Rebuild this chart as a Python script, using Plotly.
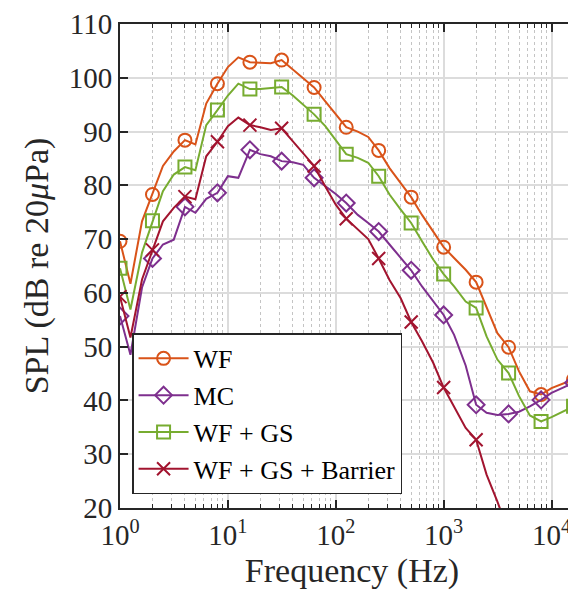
import math
import plotly.graph_objects as go

# 1/3-octave band centre frequencies (Hz)
freq = [1, 1.25, 1.6, 2, 2.5, 3.15, 4, 5, 6.3, 8, 10, 12.5, 16, 20, 25, 31.5, 40, 50,
        63, 80, 100, 125, 160, 200, 250, 315, 400, 500, 630, 800, 1000, 1250, 1600,
        2000, 2500, 3150, 4000, 5000, 6300, 8000, 10000, 12500, 16000, 20000]

spl_wf = [69.6, 61.7, 73.3, 78.3, 83.6, 86.3, 88.4, 87.6, 95.2, 98.9, 102.0, 103.8, 102.9,
          102.8, 102.7, 103.3, 101.5, 100.0, 98.2, 95.6, 93.2, 90.8, 90.0, 89.0, 86.5,
          83.2, 80.4, 77.8, 74.5, 71.4, 68.5, 66.5, 64.3, 62.0, 57.2, 52.5, 49.9, 45.4,
          41.7, 41.1, 42.3, 43.1, 43.9, 44.5]

spl_mc = [55.7, 48.5, 61.0, 66.4, 69.0, 69.9, 76.0, 74.9, 77.5, 78.6, 81.7, 81.4, 86.6,
          85.8, 85.4, 84.5, 84.3, 83.8, 81.4, 79.8, 78.4, 76.7, 74.5, 73.0, 71.4, 69.0,
          66.5, 64.2, 61.2, 58.4, 55.9, 52.2, 46.5, 39.2, 37.7, 37.3, 37.5, 37.9, 38.9,
          40.1, 41.4, 42.3, 43.3, 44.0]

spl_wf_gs = [64.6, 56.9, 67.5, 73.4, 78.9, 82.0, 83.4, 82.8, 91.2, 94.0, 96.7, 98.9, 97.9,
             97.9, 98.1, 98.3, 96.7, 95.0, 93.2, 91.0, 88.5, 85.8, 85.1, 84.2, 81.7, 78.3,
             75.5, 73.0, 69.6, 66.2, 63.5, 61.2, 58.4, 57.2, 51.9, 47.6, 45.1, 40.8, 37.2,
             36.1, 36.9, 37.9, 38.9, 39.5]

spl_barrier = [59.3, 51.7, 62.5, 68.0, 73.3, 75.8, 77.9, 77.4, 85.4, 88.1, 91.0, 92.6, 91.2,
               90.8, 90.3, 90.6, 88.2, 86.0, 83.6, 79.8, 76.4, 73.8, 71.8, 70.0, 66.4, 62.4,
               59.0, 54.6, 51.0, 47.0, 42.4, 38.9, 34.9, 32.7, 26.2, 21.2, 15.5, None, None,
               None, None, None, None, None]

series = [
    ("WF", spl_wf, "#D95319", "circle-open"),
    ("MC", spl_mc, "#7E2F8E", "diamond-open"),
    ("WF + GS", spl_wf_gs, "#77AC30", "square-open"),
    ("WF + GS + Barrier", spl_barrier, "#A2142F", "x-thin-open"),
]

FONT = "Liberation Serif"
AX = "#262626"

# markers only on the octave bands (every third point)
mark_idx = list(range(0, len(freq), 3))

fig = go.Figure()
for name, y, color, sym in series:
    # full 1/3-octave curve
    fig.add_trace(go.Scatter(
        x=freq, y=y, mode="lines", legendgroup=name, showlegend=False,
        line=dict(color=color, width=2),
    ))
    # octave markers
    fig.add_trace(go.Scatter(
        x=[freq[i] for i in mark_idx], y=[y[i] for i in mark_idx],
        mode="markers", legendgroup=name, showlegend=False,
        marker=dict(symbol=sym, size=13, color=color, line=dict(width=2, color=color)),
    ))
    # legend entry
    fig.add_trace(go.Scatter(
        x=[None], y=[None], name=name, mode="lines+markers", legendgroup=name,
        line=dict(color=color, width=2),
        marker=dict(symbol=sym, size=13, color=color, line=dict(width=2, color=color)),
    ))

# right-hand tick marks (the axes box continues past the picture edge)
fig.add_trace(go.Scatter(x=[None], y=[None], yaxis="y2", showlegend=False))

fig.update_layout(
    width=576, height=600,
    margin=dict(l=112, r=0, t=16, b=100),
    paper_bgcolor="white", plot_bgcolor="white",
    font=dict(family=FONT, color=AX, size=29),
    showlegend=True,
    legend=dict(
        x=0.026, y=0.028, xanchor="left", yanchor="bottom",
        bgcolor="white", bordercolor=AX, borderwidth=1.5,
        font=dict(family=FONT, size=26, color="black"),
        itemwidth=50, tracegroupgap=0,
    ),
    yaxis2=dict(overlaying="y", side="right", matches="y", range=[20, 110],
                tickmode="linear", tick0=20, dtick=10, ticks="inside", ticklen=8,
                tickwidth=1.5, tickcolor=AX, showticklabels=False, showgrid=False,
                showline=False, zeroline=False),
)

fig.update_xaxes(
    type="log", range=[0, math.log10(20000)],
    tickmode="linear", tick0=0, dtick=1,
    labelalias={"1": "10<sup>0</sup>", "10": "10<sup>1</sup>", "100": "10<sup>2</sup>",
                "1000": "10<sup>3</sup>", "10k": "10<sup>4</sup>"},
    ticks="inside", ticklen=8, tickwidth=1.5, tickcolor=AX,
    showline=True, linecolor=AX, linewidth=2, mirror="ticks",
    showgrid=True, gridcolor="#dcdcdc", gridwidth=1.5,
    minor=dict(dtick="D1", ticks="inside", ticklen=4, tickwidth=1, tickcolor=AX,
               showgrid=True, gridcolor="#c4c4c4", griddash="dot", gridwidth=1),
    zeroline=False, automargin=False,
    title=dict(text="Frequency (Hz)", font=dict(size=34, family=FONT), standoff=8),
    tickfont=dict(size=29, family=FONT),
)

fig.update_yaxes(
    selector=dict(overlaying=None),
    range=[20, 110], tickmode="linear", tick0=20, dtick=10,
    ticks="inside", ticklen=8, tickwidth=1.5, tickcolor=AX,
    showline=True, linecolor=AX, linewidth=2, mirror=False,
    showgrid=True, gridcolor="#dcdcdc", gridwidth=1.5,
    zeroline=False, automargin=False,
    title=dict(text="SPL (dB re 20<i>μ</i>Pa)", font=dict(size=34, family=FONT), standoff=10),
    tickfont=dict(size=29, family=FONT),
)

fig.write_html("out.html")
